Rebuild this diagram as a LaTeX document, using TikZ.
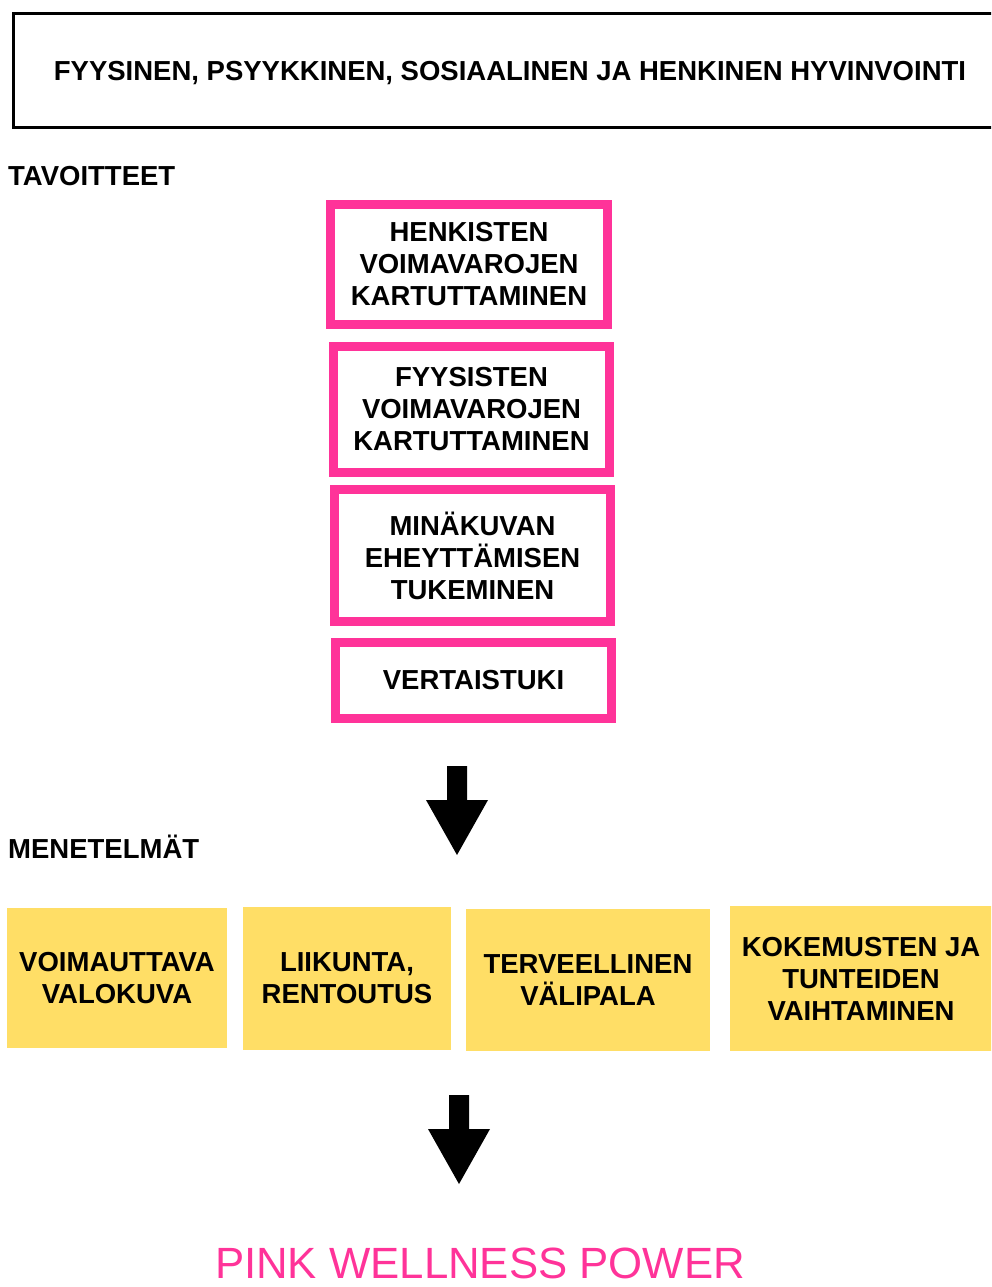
\documentclass[tikz,border=0pt]{standalone}
\usepackage{fontspec}
\setmainfont{Liberation Sans}
\definecolor{wellpink}{RGB}{255,51,153}
\definecolor{postit}{RGB}{255,222,102}
\newcommand{\boxfont}{\fontsize{27.5}{32}\selectfont\bfseries}
\tikzset{
  downarrow/.pic={
    \fill[black] (-10,0) -- (10,0) -- (10,34) -- (31,34) -- (0,89)
      -- (-31,34) -- (-10,34) -- cycle;
  }
}
\begin{document}
\begin{tikzpicture}[x=1pt,y=-1pt,
    frame/.style={draw, line width=3pt, inner sep=0pt, text depth=0pt, font=\boxfont},
    goal/.style={draw=wellpink, line width=9pt, align=center, inner sep=0pt, font=\boxfont},
    method/.style={fill=postit, align=center, inner sep=0pt, font=\boxfont},
    heading/.style={anchor=base west, inner sep=0pt, font=\boxfont}]
  \useasboundingbox (0,0) rectangle (991,1287);
  \clip (0,0) rectangle (991,1287);

  % wellbeing
  \node[frame, minimum width=993, minimum height=114] (wellbeing) at (510,70.5)
    {FYYSINEN, PSYYKKINEN, SOSIAALINEN JA HENKINEN HYVINVOINTI};

  % goals
  \node[heading] (goals) at (8,185) {TAVOITTEET};
  \node[goal, minimum width=277, minimum height=120] (mental) at (469,264.5)
    {HENKISTEN\\VOIMAVAROJEN\\KARTUTTAMINEN};
  \node[goal, minimum width=276, minimum height=126] (physical) at (471.5,409.5)
    {FYYSISTEN\\VOIMAVAROJEN\\KARTUTTAMINEN};
  \node[goal, minimum width=276, minimum height=132] (selfimage) at (472.5,555.5)
    {MIN\"AKUVAN\\EHEYTT\"AMISEN\\TUKEMINEN};
  \node[goal, minimum width=276, minimum height=76] (peer) at (473.5,680)
    {VERTAISTUKI};

  \pic at (457,766) {downarrow};

  % methods
  \node[heading] (methods) at (8,858) {MENETELM\"AT};
  \node[method, minimum width=220, minimum height=140] (photo) at (117,978)
    {VOIMAUTTAVA\\VALOKUVA};
  \node[method, minimum width=208, minimum height=143] (exercise) at (347,978.5)
    {LIIKUNTA,\\RENTOUTUS};
  \node[method, minimum width=244, minimum height=142] (snack) at (588,980)
    {TERVEELLINEN\\V\"ALIPALA};
  \node[method, minimum width=262, minimum height=145] (sharing) at (861,978.5)
    {KOKEMUSTEN JA\\TUNTEIDEN\\VAIHTAMINEN};

  \pic at (459,1095) {downarrow};

  % result
  \node[anchor=base, inner sep=0pt, text=wellpink, font=\fontsize{43.75}{50}\selectfont]
    (power) at (480,1278) {PINK WELLNESS POWER};
\end{tikzpicture}
\end{document}
